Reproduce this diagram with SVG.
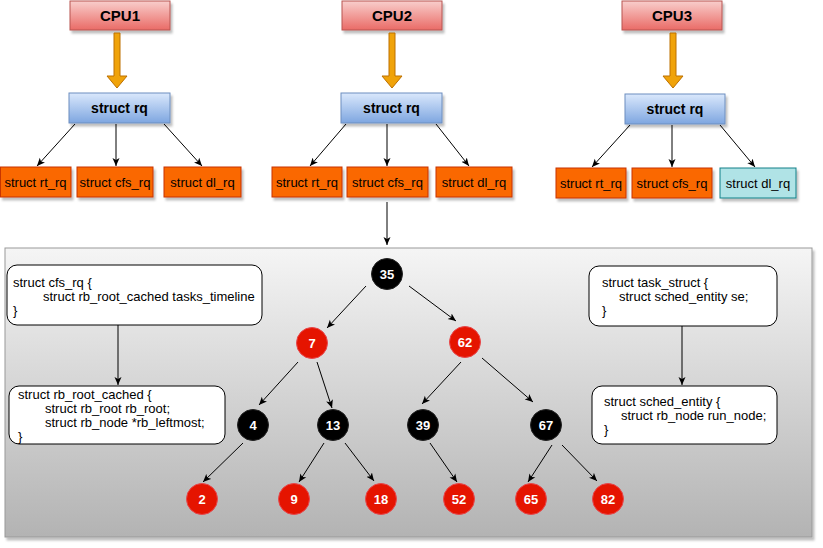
<svg xmlns="http://www.w3.org/2000/svg" width="823" height="548" viewBox="0 0 823 548">
<defs>
<linearGradient id="gCpu" x1="0" y1="0" x2="0" y2="1"><stop offset="0" stop-color="#f8cecc"/><stop offset="1" stop-color="#ea6b66"/></linearGradient>
<linearGradient id="gRq" x1="0" y1="0" x2="0" y2="1"><stop offset="0" stop-color="#dae8fc"/><stop offset="1" stop-color="#7ea6e0"/></linearGradient>
<linearGradient id="gPanel" x1="0" y1="0" x2="0" y2="1"><stop offset="0" stop-color="#f5f5f5"/><stop offset="1" stop-color="#b3b3b3"/></linearGradient>
<filter id="sh" x="-10%" y="-10%" width="130%" height="140%"><feDropShadow dx="2" dy="3" stdDeviation="1.2" flood-color="#000" flood-opacity="0.25"/></filter>
<marker id="ah" markerUnits="userSpaceOnUse" markerWidth="9" markerHeight="8" refX="8" refY="4" orient="auto"><path d="M0,0.5 L8,4 L0,7.5 L2,4 Z" fill="#000"/></marker>
<style>
text{font-family:"Liberation Sans",Arial,sans-serif;}
.cpu rect{fill:url(#gCpu);stroke:#b85450;filter:url(#sh);}
.cpu text{font-size:15px;font-weight:bold;text-anchor:middle;fill:#000;}
.rq rect{fill:url(#gRq);stroke:#6c8ebf;filter:url(#sh);}
.rq text{font-size:14px;font-weight:bold;text-anchor:middle;fill:#000;}
.sub rect{fill:#fa6800;stroke:#c73500;filter:url(#sh);}
.sub.teal rect{fill:#b0e3e6;stroke:#0e8088;}
.sub text{font-size:13px;text-anchor:middle;fill:#000;}
.barrow{fill:#f0a30a;stroke:#bd7000;}
.code rect{fill:#fff;stroke:#000;}
.code text{font-size:13px;fill:#000;}
.blk circle{fill:#000;stroke:#222;}
.red circle{fill:#e51400;stroke:#e8464a;}
.tn text{font-size:13px;font-weight:bold;fill:#fff;text-anchor:middle;}
#connectors line{stroke:#000;stroke-width:1;marker-end:url(#ah);}
</style>
</defs>
<rect width="823" height="548" fill="#fff"/>

<g id="panel"><rect x="5" y="248" width="807" height="289" fill="url(#gPanel)" stroke="#999" filter="url(#sh)"/></g>

<!-- CPU boxes -->
<g id="cpu1" class="cpu"><rect x="70" y="1" width="100" height="29"/><text x="120" y="21">CPU1</text></g>
<g id="cpu2" class="cpu"><rect x="342" y="1" width="100" height="29"/><text x="392" y="21">CPU2</text></g>
<g id="cpu3" class="cpu"><rect x="622" y="1" width="100" height="29"/><text x="672" y="21">CPU3</text></g>

<!-- block arrows -->
<g id="barrow1"><path class="barrow" d="M114,33 L120,33 L120,76 L127,76 L117,88 L107,76 L114,76 Z"/></g>
<g id="barrow2"><path class="barrow" d="M389,33 L395,33 L395,76 L402,76 L392,88 L382,76 L389,76 Z"/></g>
<g id="barrow3"><path class="barrow" d="M670,33 L676,33 L676,76 L683,76 L673,88 L663,76 L670,76 Z"/></g>

<!-- rq boxes -->
<g id="rq1" class="rq"><rect x="69" y="93" width="101" height="30"/><text x="119.5" y="113">struct rq</text></g>
<g id="rq2" class="rq"><rect x="341" y="93" width="101" height="30"/><text x="391.5" y="113">struct rq</text></g>
<g id="rq3" class="rq"><rect x="625" y="94" width="100" height="30"/><text x="675" y="114">struct rq</text></g>

<!-- sub boxes CPU1 -->
<g id="rt1" class="sub"><rect x="0.5" y="167" width="70.5" height="30"/><text x="35.5" y="187">struct rt_rq</text></g>
<g id="cfs1" class="sub"><rect x="77" y="167" width="76" height="30"/><text x="115" y="187">struct cfs_rq</text></g>
<g id="dl1" class="sub"><rect x="164" y="167" width="77" height="30"/><text x="202.5" y="187">struct dl_rq</text></g>
<!-- sub boxes CPU2 -->
<g id="rt2" class="sub"><rect x="272" y="167" width="70" height="30"/><text x="307" y="187">struct rt_rq</text></g>
<g id="cfs2" class="sub"><rect x="347" y="167" width="81" height="30"/><text x="387.5" y="187">struct cfs_rq</text></g>
<g id="dl2" class="sub"><rect x="436" y="167" width="76" height="30"/><text x="474" y="187">struct dl_rq</text></g>
<!-- sub boxes CPU3 -->
<g id="rt3" class="sub"><rect x="556" y="168" width="70" height="30"/><text x="591" y="188">struct rt_rq</text></g>
<g id="cfs3" class="sub"><rect x="632" y="168" width="80" height="30"/><text x="672" y="188">struct cfs_rq</text></g>
<g id="dl3" class="sub teal"><rect x="720" y="168" width="76" height="30"/><text x="758" y="188">struct dl_rq</text></g>

<!-- code boxes -->
<g id="cfsrq" class="code"><rect x="7" y="265" width="255" height="60" rx="10"/>
<text x="13" y="287">struct cfs_rq {</text><text x="43" y="301">struct rb_root_cached tasks_timeline</text><text x="13" y="315">}</text></g>
<g id="rbrootcached" class="code"><rect x="9" y="386" width="216" height="58" rx="10"/>
<text x="18" y="399">struct rb_root_cached {</text><text x="45" y="413">struct rb_root rb_root;</text><text x="45" y="427">struct rb_node *rb_leftmost;</text><text x="18" y="441">}</text></g>
<g id="taskstruct" class="code"><rect x="589" y="266" width="188" height="60" rx="10"/>
<text x="602" y="287">struct task_struct {</text><text x="619" y="301">struct sched_entity se;</text><text x="602" y="315">}</text></g>
<g id="schedentity" class="code"><rect x="592" y="386" width="185" height="58" rx="10"/>
<text x="604" y="406">struct sched_entity {</text><text x="621" y="420">struct rb_node run_node;</text><text x="604" y="434">}</text></g>

<!-- connectors -->
<g id="connectors">
<line x1="75" y1="124" x2="37" y2="166"/>
<line x1="116" y1="124" x2="116" y2="166"/>
<line x1="164" y1="124" x2="202" y2="166"/>
<line x1="346" y1="124" x2="310" y2="166"/>
<line x1="387" y1="124" x2="387" y2="166"/>
<line x1="436" y1="124" x2="469" y2="166"/>
<line x1="630" y1="125" x2="592" y2="167"/>
<line x1="672" y1="125" x2="672" y2="167"/>
<line x1="720" y1="125" x2="755" y2="167"/>
<line x1="387" y1="202" x2="387" y2="245"/>
<line x1="118" y1="325" x2="118" y2="385"/>
<line x1="682" y1="326" x2="682" y2="385"/>
<line x1="366" y1="286" x2="327" y2="328"/>
<line x1="409" y1="286" x2="456" y2="321"/>
<line x1="298" y1="362" x2="259" y2="405"/>
<line x1="317" y1="362" x2="332" y2="408"/>
<line x1="461" y1="362" x2="422" y2="404"/>
<line x1="482" y1="358" x2="533" y2="402"/>
<line x1="243" y1="443" x2="203" y2="482"/>
<line x1="324" y1="443" x2="299" y2="482"/>
<line x1="345" y1="443" x2="374" y2="481"/>
<line x1="430" y1="443" x2="457" y2="482"/>
<line x1="552" y1="445" x2="528" y2="482"/>
<line x1="562" y1="445" x2="597" y2="481"/>
</g>

<!-- tree nodes -->
<g id="n35" class="tn blk"><circle cx="387" cy="274" r="15.5"/><text x="387" y="279">35</text></g>
<g id="n7" class="tn red"><circle cx="312" cy="343" r="15.5"/><text x="312" y="348">7</text></g>
<g id="n62" class="tn red"><circle cx="465" cy="342" r="15.5"/><text x="465" y="347">62</text></g>
<g id="n4" class="tn blk"><circle cx="253" cy="425" r="15.5"/><text x="253" y="430">4</text></g>
<g id="n13" class="tn blk"><circle cx="333" cy="425" r="15.5"/><text x="333" y="430">13</text></g>
<g id="n39" class="tn blk"><circle cx="423" cy="425" r="15.5"/><text x="423" y="430">39</text></g>
<g id="n67" class="tn blk"><circle cx="546" cy="425" r="15.5"/><text x="546" y="430">67</text></g>
<g id="n2" class="tn red"><circle cx="202" cy="499" r="15.5"/><text x="202" y="504">2</text></g>
<g id="n9" class="tn red"><circle cx="294" cy="499" r="15.5"/><text x="294" y="504">9</text></g>
<g id="n18" class="tn red"><circle cx="381" cy="499" r="15.5"/><text x="381" y="504">18</text></g>
<g id="n52" class="tn red"><circle cx="459" cy="499" r="15.5"/><text x="459" y="504">52</text></g>
<g id="n65" class="tn red"><circle cx="531" cy="499" r="15.5"/><text x="531" y="504">65</text></g>
<g id="n82" class="tn red"><circle cx="608" cy="499" r="15.5"/><text x="608" y="504">82</text></g>
</svg>
